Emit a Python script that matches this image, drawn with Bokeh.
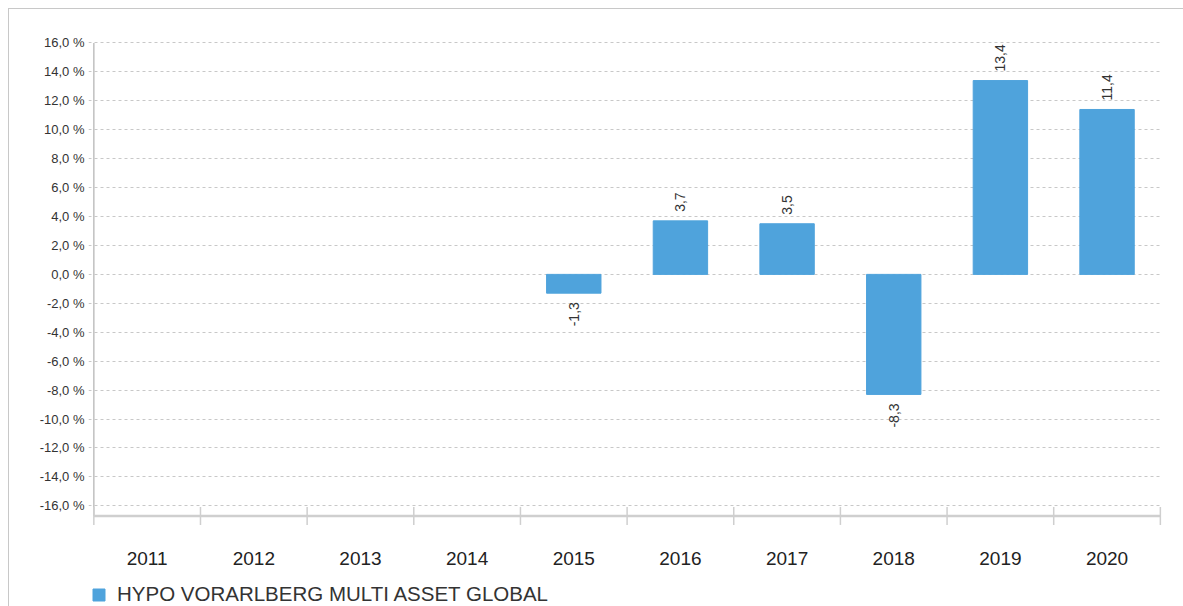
import math
from bokeh.plotting import figure
from bokeh.models import (ColumnDataSource, Range1d, FixedTicker, Legend, LegendItem)
from bokeh.core.properties import value
from bokeh.embed import file_html
from bokeh.resources import INLINE

# ---- data ----
years = ["2011", "2012", "2013", "2014", "2015", "2016", "2017", "2018", "2019", "2020"]
returns = [None, None, None, None, -1.3, 3.7, 3.5, -8.3, 13.4, 11.4]
series_name = "HYPO VORARLBERG MULTI ASSET GLOBAL"
y_ticks = [-16, -14, -12, -10, -8, -6, -4, -2, 0, 2, 4, 6, 8, 10, 12, 14, 16]

FONT = "Liberation Sans"
BAR_COLOR = "#4fa3dc"
AXIS_Y = -16.7          # where the category axis sits (value units)
AXIS_COLOR = "#cfcfcf"

x_centers = [i + 0.5 for i in range(len(years))]
x_bounds = [float(i) for i in range(len(years) + 1)]
tops = [v if v is not None else float("nan") for v in returns]

bar_src = ColumnDataSource(dict(x=x_centers, top=tops))

pos_x = [x for x, v in zip(x_centers, returns) if v is not None and v >= 0]
pos_y = [v for v in returns if v is not None and v >= 0]
neg_x = [x for x, v in zip(x_centers, returns) if v is not None and v < 0]
neg_y = [v for v in returns if v is not None and v < 0]
fmt = lambda v: f"{v:.1f}".replace(".", ",")
pos_src = ColumnDataSource(dict(x=pos_x, y=pos_y, t=[fmt(v) for v in pos_y]))
neg_src = ColumnDataSource(dict(x=neg_x, y=neg_y, t=[fmt(v) for v in neg_y]))
cat_src = ColumnDataSource(dict(x=x_centers, y=[AXIS_Y] * len(years), t=years))
tick_src = ColumnDataSource(dict(x=x_bounds, y=[AXIS_Y] * len(x_bounds)))

p = figure(width=1175, height=598, output_backend="svg", toolbar_location=None,
           x_range=Range1d(-0.05, len(years) + 0.02), y_range=Range1d(-23.03, 16.1),
           min_border_left=79, min_border_right=22, min_border_top=32, min_border_bottom=0,
           margin=(8, 0, 0, 8),
           styles={"border-top": "1px solid #c8c8c8", "border-left": "1px solid #c8c8c8"})
p.outline_line_color = None
p.background_fill_color = "white"
p.border_fill_color = "white"
p.xaxis.visible = False

# grid
p.xgrid.grid_line_color = None
p.ygrid.grid_line_color = "#c8c8c8"
p.ygrid.grid_line_dash = "3 3"
p.ygrid.grid_line_width = 1

# y axis (labels only; its line is drawn below)
p.yaxis.ticker = FixedTicker(ticks=y_ticks)
p.yaxis.major_label_overrides = {t: f"{t:.1f}".replace(".", ",") + " %" for t in y_ticks}
p.yaxis.major_tick_out = 0
p.yaxis.major_tick_in = 0
p.yaxis.minor_tick_out = 0
p.yaxis.minor_tick_in = 0
p.yaxis.major_label_standoff = 4
p.yaxis.major_label_text_font = FONT
p.yaxis.major_label_text_font_size = "13px"
p.yaxis.major_label_text_color = "#333333"
p.yaxis.axis_line_color = None

# vertical axis line
p.segment(x0=x_bounds[0], y0=y_ticks[-1], x1=x_bounds[0], y1=AXIS_Y,
          line_color="#c0c0c0", line_width=1.5)
# category axis line and ticks
p.segment(x0=x_bounds[0], y0=AXIS_Y, x1=x_bounds[-1], y1=AXIS_Y,
          line_color=AXIS_COLOR, line_width=2.5)
p.scatter(x="x", y="y", source=tick_src, marker="dash", size=18, angle=math.pi / 2,
          line_color=AXIS_COLOR, line_width=1.5)
p.text(x="x", y="y", text="t", source=cat_src, y_offset=43,
       text_align="center", text_baseline="middle",
       text_font=value(FONT), text_font_size="19px", text_color="#222222")

bars = p.vbar(x="x", top="top", bottom=0, width=0.51, source=bar_src,
              fill_color=BAR_COLOR, line_color=BAR_COLOR)

p.text(x="x", y="y", text="t", source=pos_src, angle=math.pi / 2,
       text_align="left", text_baseline="middle", y_offset=-9,
       text_font=value(FONT), text_font_size="14px", text_color="#333333")
p.text(x="x", y="y", text="t", source=neg_src, angle=math.pi / 2,
       text_align="right", text_baseline="middle", y_offset=9,
       text_font=value(FONT), text_font_size="14px", text_color="#333333")

legend = Legend(items=[LegendItem(label=series_name, renderers=[bars])],
                location=(3, 1), orientation="horizontal",
                border_line_color=None, background_fill_alpha=0,
                padding=0, margin=0, spacing=0,
                glyph_width=15, glyph_height=15, label_standoff=11,
                label_text_font=FONT, label_text_font_size="20.5px",
                label_text_color="#333333")
p.add_layout(legend, "center")

open("out.html", "w").write(file_html(p, INLINE))
